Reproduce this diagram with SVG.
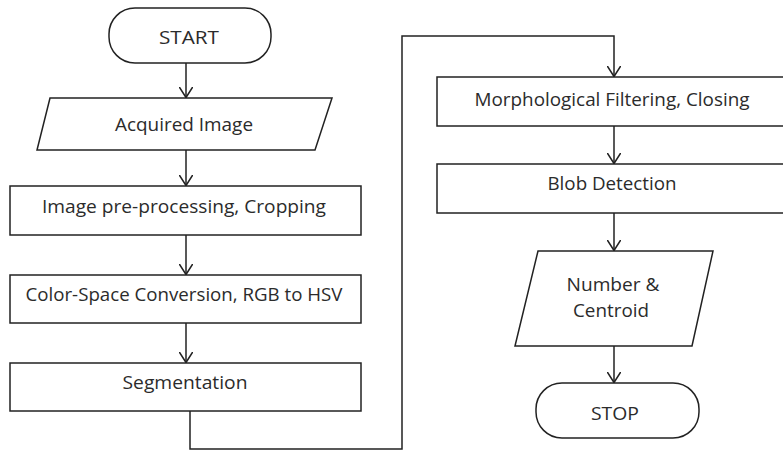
<svg xmlns="http://www.w3.org/2000/svg" width="783" height="451" viewBox="0 0 783 451">
<defs>
<marker id="arr" markerWidth="16" markerHeight="14" refX="11" refY="7" orient="auto" markerUnits="userSpaceOnUse">
<path d="M0,0 L11,7 L0,14" fill="none" stroke="#222" stroke-width="1.5"/>
</marker>
<style>
.s{fill:#fff;stroke:#222;stroke-width:1.5}
.t{font-family:"Open Sans","Liberation Sans",sans-serif;font-size:19px;fill:#2b2b2b;text-anchor:middle}
.c{fill:none;stroke:#222;stroke-width:1.5}
</style>
</defs>
<rect width="783" height="451" fill="#fff"/>
<g id="connectors">
<line class="c" x1="186" y1="63" x2="186" y2="97.5" marker-end="url(#arr)"/>
<line class="c" x1="186" y1="150" x2="186" y2="185.5" marker-end="url(#arr)"/>
<line class="c" x1="186" y1="235" x2="186" y2="274.5" marker-end="url(#arr)"/>
<line class="c" x1="186" y1="323" x2="186" y2="362.5" marker-end="url(#arr)"/>
<path class="c" d="M190,411 V449 H402 V36 H614 V76.5" marker-end="url(#arr)"/>
<line class="c" x1="614" y1="126" x2="614" y2="163.5" marker-end="url(#arr)"/>
<line class="c" x1="614" y1="213" x2="614" y2="250.5" marker-end="url(#arr)"/>
<line class="c" x1="614" y1="346" x2="614" y2="382.5" marker-end="url(#arr)"/>
</g>
<g id="start">
<rect class="s" x="109" y="8" width="162" height="55" rx="26" ry="26"/>
<text class="t" x="189" y="44" textLength="60" lengthAdjust="spacingAndGlyphs">START</text>
</g>
<g id="acquired">
<polygon class="s" points="50,98 332,98 315,150 37,150"/>
<text class="t" x="184" y="131" textLength="138" lengthAdjust="spacingAndGlyphs">Acquired Image</text>
</g>
<g id="preprocess">
<rect class="s" x="10" y="186" width="351" height="49"/>
<text class="t" x="184" y="213" textLength="284" lengthAdjust="spacingAndGlyphs">Image pre-processing, Cropping</text>
</g>
<g id="colorspace">
<rect class="s" x="10" y="275" width="351" height="48"/>
<text class="t" x="184" y="301" textLength="317" lengthAdjust="spacingAndGlyphs">Color-Space Conversion, RGB to HSV</text>
</g>
<g id="segmentation">
<rect class="s" x="10" y="363" width="351" height="48"/>
<text class="t" x="185" y="389" textLength="125" lengthAdjust="spacingAndGlyphs">Segmentation</text>
</g>
<g id="morph">
<rect class="s" x="437" y="77" width="360" height="49"/>
<text class="t" x="612" y="106" textLength="275" lengthAdjust="spacingAndGlyphs">Morphological Filtering, Closing</text>
</g>
<g id="blob">
<rect class="s" x="437" y="164" width="360" height="49"/>
<text class="t" x="612" y="190" textLength="129" lengthAdjust="spacingAndGlyphs">Blob Detection</text>
</g>
<g id="number">
<polygon class="s" points="538,251 713,251 692,346 515,346"/>
<text class="t" x="613" y="291" textLength="93" lengthAdjust="spacingAndGlyphs">Number &amp;</text>
<text class="t" x="611" y="317" textLength="76" lengthAdjust="spacingAndGlyphs">Centroid</text>
</g>
<g id="stop">
<rect class="s" x="536" y="383" width="163" height="55" rx="26" ry="26"/>
<text class="t" x="615" y="420" textLength="48" lengthAdjust="spacingAndGlyphs">STOP</text>
</g>
</svg>
